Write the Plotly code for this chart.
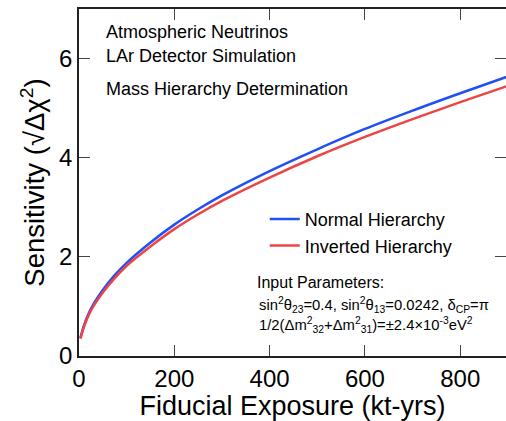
import plotly.graph_objects as go

exposure = [3, 10, 20, 30, 50, 75, 100, 150, 200, 250, 300, 400, 500, 600, 700, 800, 900]
normal_h = [0.36, 0.60, 0.85, 1.04, 1.33, 1.63, 1.88, 2.29, 2.65, 2.96, 3.24, 3.73, 4.17, 4.58, 4.95, 5.30, 5.64]
inverted_h = [0.35, 0.58, 0.82, 1.00, 1.28, 1.57, 1.82, 2.21, 2.56, 2.86, 3.13, 3.60, 4.03, 4.42, 4.78, 5.12, 5.45]
x_ticks = [0, 200, 400, 600, 800]
y_ticks = [0, 2, 4, 6]

FONT = "Liberation Sans, Arial, sans-serif"

fig = go.Figure()
fig.add_trace(go.Scatter(x=exposure, y=normal_h, mode="lines", name="Normal Hierarchy",
                         line=dict(color="#1f4ff5", width=2.5, shape="spline"), legendgroup="a"))
fig.add_trace(go.Scatter(x=exposure, y=inverted_h, mode="lines", name="Inverted Hierarchy",
                         line=dict(color="#ee4444", width=2.5, shape="spline"), legendgroup="b"))

fig.update_layout(
    width=506, height=421,
    margin=dict(l=79, r=0, t=9, b=65, autoexpand=False),
    paper_bgcolor="white", plot_bgcolor="white",
    font=dict(family=FONT, color="black"),
    showlegend=True,
    legend=dict(x=0.435, y=0.447, xanchor="left", yanchor="top",
                font=dict(size=18, family=FONT), bgcolor="rgba(0,0,0,0)",
                tracegroupgap=0, itemwidth=30),
    xaxis=dict(range=[0, 896], tickvals=x_ticks, ticks="inside", ticklen=11,
               showline=True, linecolor="#222", linewidth=1.5, mirror="allticks",
               showgrid=False, zeroline=False, tickfont=dict(size=24), automargin=False,
               title=dict(text="Fiducial Exposure (kt-yrs)", font=dict(size=27), standoff=4)),
    yaxis=dict(range=[0, 7], tickvals=y_ticks, ticks="inside", ticklen=11,
               showline=True, linecolor="#222", linewidth=1.5, mirror="ticks",
               showgrid=False, zeroline=False, tickfont=dict(size=24), automargin=False,
               title=dict(text="Sensitivity (√Δχ<sup>2</sup>)", font=dict(size=27.5), standoff=6)),
)

texts = [
    ("Atmospheric Neutrinos", 6.53),
    ("LAr Detector Simulation", 6.05),
    ("Mass Hierarchy Determination", 5.39),
]
for t, yv in texts:
    fig.add_annotation(text=t, xref="paper", yref="y", x=0.059, y=yv, xanchor="left",
                       yanchor="middle", showarrow=False, font=dict(size=18, family=FONT))

params = [
    ("Input Parameters:", 0.412, 1.49, 16),
    ("sin<sup>2</sup>θ<sub>23</sub>=0.4, sin<sup>2</sup>θ<sub>13</sub>=0.0242, δ<sub>CP</sub>=π", 0.417, 1.03, 14.8),
    ("1/2(Δm<sup>2</sup><sub>32</sub>+Δm<sup>2</sup><sub>31</sub>)=±2.4×10<sup>-3</sup>eV<sup>2</sup>", 0.417, 0.63, 14.8),
]
for t, xp, yv, fs in params:
    fig.add_annotation(text=t, xref="paper", yref="y", x=xp, y=yv, xanchor="left",
                       yanchor="middle", showarrow=False, font=dict(size=fs, family=FONT))

fig.write_html("out.html", config={"displayModeBar": False},
               post_script="document.body.style.margin='0';document.body.style.overflow='hidden';")
